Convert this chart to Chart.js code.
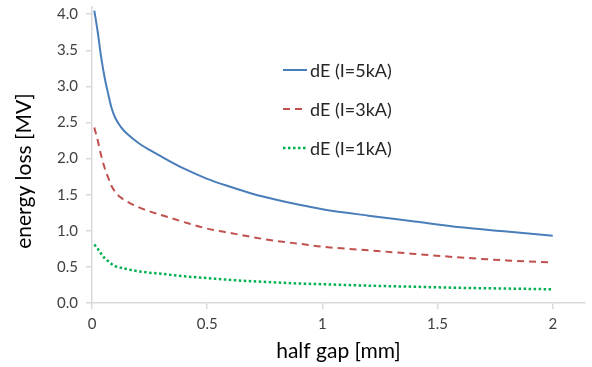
<!DOCTYPE html>
<html>
<head>
<meta charset="utf-8">
<script src="https://cdn.jsdelivr.net/npm/chart.js@4"></script>
<style>
    html, body { margin: 0; padding: 0; background: #fff; }
    #wrap { width: 592px; height: 367px; }
</style>
</head>
<body>
<div id="wrap"><canvas id="lossChart" width="592" height="367"></canvas></div>
<script>
// half gap in mm
const gapMm = [0.01, 0.025, 0.04, 0.055, 0.07, 0.085, 0.1, 0.125, 0.15, 0.2, 0.25, 0.3,
               0.4, 0.5, 0.6, 0.7, 0.8, 0.9, 1.0, 1.2, 1.4, 1.6, 1.8, 2.0];

// energy loss in MV for each beam current
const dE5kA = [4.05, 3.75, 3.40, 3.12, 2.90, 2.70, 2.57, 2.44, 2.35, 2.22, 2.12, 2.03,
               1.86, 1.72, 1.61, 1.51, 1.43, 1.36, 1.30, 1.21, 1.13, 1.05, 0.99, 0.93];
const dE3kA = [2.43, 2.25, 2.04, 1.87, 1.74, 1.62, 1.54, 1.46, 1.41, 1.33, 1.27, 1.22,
               1.12, 1.03, 0.97, 0.91, 0.86, 0.82, 0.78, 0.73, 0.68, 0.63, 0.59, 0.56];
const dE1kA = [0.81, 0.75, 0.68, 0.62, 0.58, 0.54, 0.51, 0.49, 0.47, 0.44, 0.42, 0.405,
               0.37, 0.345, 0.32, 0.30, 0.285, 0.27, 0.26, 0.24, 0.225, 0.21, 0.20, 0.19];

const seriesLabels = ['dE (I=5kA)', 'dE (I=3kA)', 'dE (I=1kA)'];
const xTicks = [0, 0.5, 1, 1.5, 2];
const yTicks = [0, 0.5, 1, 1.5, 2, 2.5, 3, 3.5, 4];

const FONT = 'Lato, "Open Sans", sans-serif';
const AXIS_GREY = '#d9d9d9';

function toPoints(ys) {
    return gapMm.map((x, i) => ({ x: x, y: ys[i] }));
}

// legend drawn inside the plot area, line sample followed by the label
const innerLegend = {
    id: 'innerLegend',
    afterDraw(chart, args, opts) {
        const ctx = chart.ctx;
        const area = chart.chartArea;
        ctx.save();
        ctx.font = opts.font;
        ctx.fillStyle = opts.color;
        ctx.textBaseline = 'middle';
        chart.data.datasets.forEach((ds, i) => {
            const y = area.top + opts.top + i * opts.spacing;
            const x = area.left + opts.left;
            ctx.beginPath();
            ctx.strokeStyle = ds.borderColor;
            ctx.lineWidth = ds.borderWidth;
            ctx.setLineDash(ds.borderDash || []);
            ctx.moveTo(x, y);
            ctx.lineTo(x + opts.sampleWidth, y);
            ctx.stroke();
            ctx.setLineDash([]);
            ctx.fillText(ds.label, x + opts.sampleWidth + 3, y + 1);
        });
        ctx.restore();
    }
};

// y title sits a bit below the middle of the axis
const yTitle = {
    id: 'yTitle',
    afterDraw(chart, args, opts) {
        const ctx = chart.ctx;
        ctx.save();
        ctx.font = opts.font;
        ctx.fillStyle = opts.color;
        ctx.textAlign = 'center';
        ctx.textBaseline = 'middle';
        ctx.translate(opts.x, opts.y);
        ctx.rotate(-Math.PI / 2);
        ctx.fillText(opts.text, 0, 0);
        ctx.restore();
    }
};

const ctx = document.getElementById('lossChart');

new Chart(ctx.getContext('2d'), {
    type: 'line',
    data: {
        datasets: [{
            label: seriesLabels[0],
            data: toPoints(dE5kA),
            borderColor: '#4a7ebb',
            borderWidth: 2,
            pointRadius: 0,
            cubicInterpolationMode: 'monotone'
        }, {
            label: seriesLabels[1],
            data: toPoints(dE3kA),
            borderColor: '#c0504d',
            borderWidth: 2,
            borderDash: [7, 5],
            pointRadius: 0,
            cubicInterpolationMode: 'monotone'
        }, {
            label: seriesLabels[2],
            data: toPoints(dE1kA),
            borderColor: '#00b050',
            borderWidth: 2.5,
            borderDash: [2.5, 2.5],
            pointRadius: 0,
            cubicInterpolationMode: 'monotone'
        }]
    },
    options: {
        responsive: false,
        animation: false,
        layout: {
            padding: { top: 7, right: 7, left: 0, bottom: 0 }
        },
        plugins: {
            legend: { display: false },
            tooltip: { enabled: false },
            innerLegend: {
                left: 191,
                top: 63,
                spacing: 39,
                sampleWidth: 24,
                font: '18px ' + FONT,
                color: '#262626'
            },
            yTitle: {
                text: 'energy loss [MV]',
                x: 24,
                y: 171,
                font: '21px ' + FONT,
                color: '#000'
            }
        },
        scales: {
            x: {
                type: 'linear',
                min: 0,
                max: 2.14,
                afterBuildTicks: (scale) => {
                    scale.ticks = xTicks.map(v => ({ value: v }));
                },
                afterFit: (scale) => {
                    scale.height = 64;
                    scale.paddingRight = 0;
                },
                ticks: {
                    color: '#404040',
                    font: { family: FONT, size: 15 },
                    padding: 6,
                    maxRotation: 0,
                    callback: (v) => String(Number(v))
                },
                grid: {
                    drawOnChartArea: false,
                    drawTicks: true,
                    tickLength: 6,
                    color: AXIS_GREY,
                    lineWidth: 1.5
                },
                border: { color: AXIS_GREY, width: 1.5 },
                title: {
                    display: true,
                    text: 'half gap [mm]',
                    color: '#000',
                    font: { family: FONT, size: 21 },
                    padding: { top: 0, bottom: 3 }
                }
            },
            y: {
                type: 'linear',
                min: 0,
                max: 4.1,
                afterBuildTicks: (scale) => {
                    scale.ticks = yTicks.map(v => ({ value: v }));
                },
                afterFit: (scale) => {
                    scale.width = 92;
                    scale.paddingTop = 0;
                    scale.paddingBottom = 0;
                },
                ticks: {
                    color: '#404040',
                    font: { family: FONT, size: 15 },
                    padding: 8,
                    callback: (v) => Number(v).toFixed(1)
                },
                grid: {
                    drawOnChartArea: false,
                    drawTicks: true,
                    tickLength: 6,
                    color: AXIS_GREY,
                    lineWidth: 1.5
                },
                border: { color: AXIS_GREY, width: 1.5 }
            }
        }
    },
    plugins: [innerLegend, yTitle]
});
</script>
</body>
</html>
